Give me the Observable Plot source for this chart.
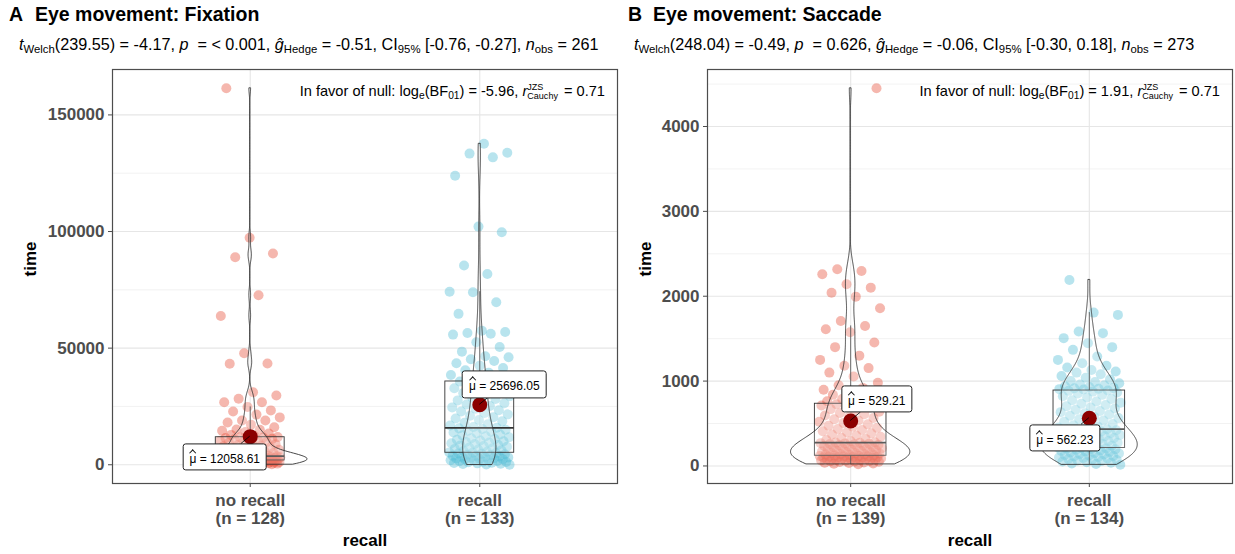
<!DOCTYPE html>
<html><head><meta charset="utf-8">
<script src="https://cdn.jsdelivr.net/npm/d3@7"></script>
<script src="https://cdn.jsdelivr.net/npm/@observablehq/plot@0.6"></script>
<style>
body{margin:0;background:#fff;font-family:"Liberation Sans",Arial,sans-serif;color:#000;}
#root{position:relative;width:1235px;height:554px;overflow:hidden;background:#fff;}
.tag,.title{position:absolute;font-weight:bold;font-size:19.5px;white-space:nowrap;}
.subtitle{position:absolute;font-size:16.2px;white-space:nowrap;}
.subtitle sub{font-size:70%;vertical-align:-0.3em;line-height:0;}
.plotbox{position:absolute;top:60px;}
.bf{position:absolute;font-size:14.6px;white-space:nowrap;transform:translate(-100%,-50%);}
.bf sub{font-size:70%;vertical-align:-0.3em;line-height:0;}
.ss{display:inline-flex;flex-direction:column;font-size:62%;line-height:1.05;vertical-align:middle;margin-right:2px;}
.ss span{display:block;}
.mlabel{position:absolute;transform:translate(-50%,-50%);background:#fff;border:1px solid #222;border-radius:3px;font-size:12px;padding:9px 6px 3px 6px;white-space:nowrap;line-height:1.1;}
.mu{position:relative;display:inline-block;}
.mu::after{content:"";position:absolute;left:50%;top:-3px;width:4px;height:4px;border-left:1px solid #111;border-top:1px solid #111;transform:translateX(-50%) rotate(45deg);}
</style></head>
<body><div id="root"></div>
<script>
// ---------------- data ----------------
const categories = ["no recall", "recall"];

const fixationNoRecall = [50,120,180,250,310,380,430,490,540,600,650,700,760,810,870,920,980,1030,1090,1140,1200,1250,1310,1370,1420,1480,1540,1590,1650,1710,1760,1830,
1860,1920,1980,2040,2100,2160,2220,2280,2340,2400,2460,2520,2580,2640,2700,2760,2820,2880,2940,3000,3060,3120,3180,3240,3300,3360,3420,3480,3540,3600,3650,3690,
3710,3900,4100,4300,4500,4750,5000,5250,5500,5800,6100,6400,6700,7000,7300,7600,7900,8200,8500,8800,9100,9400,9700,10000,10300,10600,10900,11100,11300,11500,11650,11780,
11860,12300,12800,13400,14000,14600,15000,15100,16100,17200,18100,19000,19000,20300,21500,22800,23300,24800,26800,26800,28300,29700,31100,
43300,43400,47800,63800,72700,89000,90600,97300,161400];

const fixationRecall = [30,150,300,450,600,750,900,1050,1200,1350,1500,1650,1800,1950,2100,2250,2400,2550,2700,2850,3000,3150,3300,3450,3600,3750,3900,4100,4300,4500,4700,4850,5000,
5140,
5300,5600,5900,6200,6500,6800,7100,7400,7700,8000,8300,8600,8900,9200,9500,9800,10100,10400,10700,11000,11400,11800,12200,12600,13000,13400,13800,14200,14600,15000,15300,15600,
15850,
16200,16800,17400,18000,18600,19200,19800,20400,21000,21600,22200,22800,23400,24000,24600,25200,25800,26400,27000,27600,28200,28800,29400,30000,30700,31400,32100,32800,33500,34200,34700,35200,
35700,
36500,37500,38500,39500,40500,41500,42500,43500,44500,45200,46100,46500,48500,50500,52500,55800,56200,56500,56900,57500,64700,69700,74000,74200,81800,85400,99700,102100,123900,131800,133400,133800,137600];

const saccadeNoRecall = [20,25,30,34,38,42,46,50,53,56,59,62,65,68,71,74,77,80,83,86,89,92,95,97,99,101,103,105,107,109,111,113,115,117,118,
122,126,130,134,138,142,146,150,155,160,165,170,175,180,185,190,195,200,205,210,215,220,225,230,235,240,245,250,255,259,263,266,269,272,
275,
280,293,306,319,332,345,358,371,384,397,410,423,436,449,462,475,490,505,520,535,550,565,580,595,610,625,640,655,670,685,700,712,722,728,
738,750,762,775,790,805,820,840,860,880,898,920,950,980,1054,1100,1153,1180,1250,1300,1400,1454,1576,1611,1650,1709,1859,1995,2042,2101,2141,2259,2298,2318,4450];

const saccadeRecall = [15,22,30,38,45,52,58,64,70,76,82,88,94,100,106,112,118,124,130,136,142,148,154,160,166,172,178,184,190,196,200,204,207,210,
218,225,232,239,246,253,260,267,274,281,288,295,302,309,316,323,330,337,344,351,358,365,372,379,386,393,400,407,414,420,425,429,432,
438,452,466,480,494,508,522,536,550,564,578,592,606,620,634,648,662,676,690,704,718,732,746,760,774,790,806,822,838,854,866,876,885,
890,900,905,910,915,920,930,940,950,960,975,990,1000,1020,1040,1060,1080,1100,1113,1130,1160,1180,1210,1250,1290,1368,1400,1447,1506,1565,1584,1780,1807,2192];

const fixationMeans = [12058.61, 25696.05];
const saccadeMeans = [529.21, 562.23];
const fixationTicks = [0, 50000, 100000, 150000];
const fixationMinorTicks = [25000, 75000, 125000];
const saccadeTicks = [0, 1000, 2000, 3000, 4000];
const saccadeMinorTicks = [500, 1500, 2500, 3500, 4500];
const groupColors = ["#E64B35", "#4DBBD5"];

const fixationTitle = "Eye movement: Fixation";
const saccadeTitle = "Eye movement: Saccade";
const fixationSubtitle = '<i>t</i><sub>Welch</sub>(239.55) = -4.17, <i>p</i>&nbsp; = &lt; 0.001, <i>ĝ</i><sub>Hedge</sub> = -0.51, CI<sub>95%</sub> [-0.76, -0.27], <i>n</i><sub>obs</sub> = 261';
const saccadeSubtitle = '<i>t</i><sub>Welch</sub>(248.04) = -0.49, <i>p</i>&nbsp; = 0.626, <i>ĝ</i><sub>Hedge</sub> = -0.06, CI<sub>95%</sub> [-0.30, 0.18], <i>n</i><sub>obs</sub> = 273';
const fixationBF = 'In favor of null: log<sub>e</sub>(BF<sub>01</sub>) = -5.96, <i>r</i><span class="ss"><span>JZS</span><span>Cauchy</span></span> = 0.71';
const saccadeBF = 'In favor of null: log<sub>e</sub>(BF<sub>01</sub>) = 1.91, <i>r</i><span class="ss"><span>JZS</span><span>Cauchy</span></span> = 0.71';

// ---------------- helpers ----------------
function kde(values, n) {
  const v = values.slice().sort(d3.ascending);
  const sd = d3.deviation(v);
  const iqr = d3.quantileSorted(v, 0.75) - d3.quantileSorted(v, 0.25);
  const bw = 0.9 * Math.min(sd, iqr / 1.34) * Math.pow(v.length, -0.2);
  const lo = v[0], hi = v[v.length - 1];
  const out = [];
  for (let i = 0; i < n; i++) {
    const y = lo + (hi - lo) * i / (n - 1);
    let s = 0;
    for (const x of v) { const z = (y - x) / bw; s += Math.exp(-0.5 * z * z); }
    out.push({y, d: s / (v.length * bw * Math.sqrt(2 * Math.PI))});
  }
  return out;
}
function boxStats(values, i) {
  const v = values.slice().sort(d3.ascending);
  const q1 = d3.quantileSorted(v, 0.25), med = d3.quantileSorted(v, 0.5), q3 = d3.quantileSorted(v, 0.75);
  const iqr = q3 - q1;
  const upper = d3.max(v.filter(d => d <= q3 + 1.5 * iqr));
  const lower = d3.min(v.filter(d => d >= q1 - 1.5 * iqr));
  return {i: i + 1, q1, med, q3, upper, lower};
}

const root = document.getElementById("root");
const FONT = '"Liberation Sans", Arial, sans-serif';

function panel(cfg) {
  const groups = cfg.groups;
  const all = groups.flat();
  const lo = d3.min(all), hi = d3.max(all), R = hi - lo;
  const domain = [lo - 0.05 * R, hi + 0.05 * R];

  const points = [];
  groups.forEach((g, gi) => {
    g.slice().sort(d3.ascending).forEach((v, k) => {
      const u = ((k + 1) * 0.6180339887 + gi * 0.37) % 1;
      points.push({x: gi + 1 + (u * 2 - 1) * 0.133, y: v, g: gi});
    });
  });
  const dens = groups.map(g => kde(g, 512));
  const maxD = d3.max(dens.flat(), d => d.d);
  const violins = [];
  dens.forEach((ds, gi) => ds.forEach(p => {
    const w = p.d / maxD * 0.25;
    violins.push({g: gi, y: p.y, x1: gi + 1 - w, x2: gi + 1 + w});
  }));
  const boxes = groups.map((g, i) => boxStats(g, i));
  const means = cfg.means.map((m, i) => ({x: i + 1, y: m}));
  const ns = groups.map(g => g.length);

  const chart = Plot.plot({
    width: cfg.width, height: 494,
    marginLeft: cfg.marginLeft, marginRight: 3, marginTop: 9, marginBottom: 71,
    x: {domain: [0.4, 2.6]},
    y: {domain},
    style: {fontFamily: FONT, background: "white", overflow: "visible"},
    marks: [
      Plot.gridY(cfg.minor, {stroke: "#ececec", strokeOpacity: 1, strokeWidth: 0.7}),
      Plot.gridY(cfg.ticks, {stroke: "#e6e6e6", strokeOpacity: 1, strokeWidth: 1.1}),
      Plot.gridX([1, 2], {stroke: "#e6e6e6", strokeOpacity: 1, strokeWidth: 1.1}),
      Plot.dot(points, {x: "x", y: "y", r: 5, fill: d => groupColors[d.g], fillOpacity: 0.4, stroke: "none"}),
      Plot.ruleX(boxes, {x: "i", y1: "q3", y2: "upper", stroke: "#333", strokeWidth: 0.9}),
      Plot.ruleX(boxes, {x: "i", y1: "lower", y2: "q1", stroke: "#333", strokeWidth: 0.9}),
      Plot.rect(boxes, {x1: d => d.i - 0.15, x2: d => d.i + 0.15, y1: "q1", y2: "q3", fill: "white", fillOpacity: 0.2, stroke: "#333", strokeWidth: 0.9}),
      Plot.ruleY(boxes, {y: "med", x1: d => d.i - 0.15, x2: d => d.i + 0.15, stroke: "#333", strokeWidth: 1.8}),
      Plot.areaX(violins, {y: "y", x1: "x1", x2: "x2", z: "g", fill: "white", fillOpacity: 0.2, stroke: "#333", strokeWidth: 0.9}),
      Plot.dot(means, {x: "x", y: "y", r: 7.5, fill: "#8B0000", stroke: "none"}),
      Plot.frame({stroke: "#4d4d4d", strokeWidth: 1.2}),
      Plot.axisY({ticks: cfg.ticks, tickFormat: d => String(d), tickSize: 4, tickPadding: 4, fontSize: 17, fontWeight: "bold", color: "#4d4d4d", label: null}),
      Plot.axisX({ticks: [1, 2], tickFormat: d => `${categories[d - 1]}\n(n = ${ns[d - 1]})`, tickSize: 4, tickPadding: 5, fontSize: 17, fontWeight: "bold", lineHeight: 1.1, color: "#4d4d4d", label: null}),
      Plot.text(["time"], {text: d => d, frameAnchor: "left", dx: -(cfg.marginLeft - cfg.yTitleX), rotate: -90, fontSize: 17, fontWeight: "bold", fill: "black"}),
      Plot.text(["recall"], {text: d => d, frameAnchor: "bottom", dy: 62, fontSize: 17, fontWeight: "bold", fill: "black"})
    ]
  });

  const box = document.createElement("div");
  box.className = "plotbox";
  box.style.left = cfg.left + "px";
  box.appendChild(chart);
  root.appendChild(box);

  const add = (cls, html, x, y) => {
    const el = document.createElement("div");
    el.className = cls; el.innerHTML = html;
    el.style.left = x + "px"; el.style.top = y + "px";
    root.appendChild(el); return el;
  };
  add("tag", cfg.tag, cfg.left + cfg.tagX, 3);
  add("title", cfg.title, cfg.left + cfg.titleX, 3);
  add("subtitle", cfg.subtitle, cfg.left + cfg.subX, 35);

  const sx = chart.scale("x"), sy = chart.scale("y");
  const frameRight = cfg.left + cfg.width - 3;
  add("bf", cfg.bf, frameRight - 12, 92);

  // mean labels (repel offsets are style values)
  const svg = d3.select(chart);
  means.forEach((m, i) => {
    const px = sx.apply(m.x), py = sy.apply(m.y);
    const [ox, oy] = cfg.labelOffsets[i];
    const html = `<span class="mu">μ</span> = ${cfg.means[i].toFixed(2)}`;
    const el = add("mlabel", html, cfg.left + px + ox, 60 + py + oy);
    const w = el.offsetWidth / 2, h = el.offsetHeight / 2;
    const t = Math.min(Math.abs(w / ox), Math.abs(h / oy));
    const ex = px + ox - ox * t, ey = py + oy - oy * t;
    svg.append("line").attr("x1", px).attr("y1", py).attr("x2", ex).attr("y2", ey)
      .attr("stroke", "#000").attr("stroke-width", 0.8);
  });
}

panel({
  left: 0, width: 620, marginLeft: 112, yTitleX: 30,
  groups: [fixationNoRecall, fixationRecall], means: fixationMeans,
  ticks: fixationTicks, minor: fixationMinorTicks,
  tag: "A", title: fixationTitle, subtitle: fixationSubtitle, bf: fixationBF,
  tagX: 9, titleX: 35, subX: 19,
  labelOffsets: [[-25, 21], [25, -20]]
});
panel({
  left: 620, width: 615, marginLeft: 87, yTitleX: 25.5,
  groups: [saccadeNoRecall, saccadeRecall], means: saccadeMeans,
  ticks: saccadeTicks, minor: saccadeMinorTicks,
  tag: "B", title: saccadeTitle, subtitle: saccadeSubtitle, bf: saccadeBF,
  tagX: 8, titleX: 33, subX: 14,
  labelOffsets: [[26.5, -22], [-24, 20]]
});
</script>
</body></html>
